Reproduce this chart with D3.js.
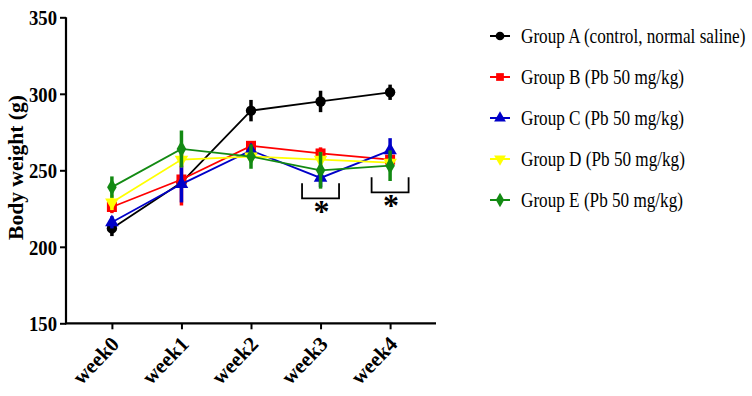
<!DOCTYPE html>
<html><head><meta charset="utf-8">
<script src="https://cdn.jsdelivr.net/npm/d3@7"></script>
<style>body{margin:0;background:#fff}svg{display:block}</style>
</head><body>
<svg id="c" width="752" height="396"></svg>
<script>
const weeks = ["week0","week1","week2","week3","week4"];
const groupNames = ["Group A (control, normal saline)","Group B (Pb 50 mg/kg)","Group C (Pb 50 mg/kg)","Group D (Pb 50 mg/kg)","Group E (Pb 50 mg/kg)"];
const groupColors = ["#000000","#ff0000","#0000c8","#ffff00","#138a13"];
const groupSymbols = ["circle","square","triangle","triangleDown","diamond"];
const groupA = [212, 242, 289, 295, 301];
const groupB = [226, 244, 266, 261, 257];
const groupC = [216, 241, 263, 245, 263];
const groupD = [229, 257, 259, 257, 255];
const groupE = [239, 264, 259, 250, 253];
const errA = [5, 3, 7, 7, 5];
const errB = [4, 17, 3, 4, 3];
const errC = [4, 12, 3, 6, 8];
const errD = [5, 5, 3, 5, 3];
const errE = [7, 12, 8, 12, 10];
const yTicks = [150, 200, 250, 300, 350];
const sigWeeks = ["week3","week4"];
const sigTop = [241.5, 245.4];
const sigBottom = [231.7, 235.6];

const values = [groupA, groupB, groupC, groupD, groupE];
const errs = [errA, errB, errC, errD, errE];

const svg = d3.select("#c");
const x = d3.scalePoint().domain(weeks).range([66, 436]).padding(0.66);
const y = d3.scaleLinear().domain([150, 350]).range([323.3, 17.3]);

// axes
const yAxis = svg.append("g").attr("transform","translate(66,0)")
  .call(d3.axisLeft(y).tickValues(yTicks).tickSize(6).tickPadding(3).tickFormat(d3.format("d")));
yAxis.select(".domain").attr("stroke","#000").attr("stroke-width",2.2).attr("d","M0,"+y(350)+"V"+(y(150)+1));
yAxis.selectAll(".tick line").attr("stroke","#000").attr("stroke-width",2);
yAxis.selectAll(".tick text").attr("font-family","Liberation Serif").attr("font-weight","bold")
  .attr("font-size",22).attr("fill","#000").attr("dy","0.34em").attr("textLength",28).attr("lengthAdjust","spacingAndGlyphs");

const xAxis = svg.append("g").attr("transform","translate(0,"+y(150)+")")
  .call(d3.axisBottom(x).tickSize(6).tickPadding(4));
xAxis.select(".domain").attr("stroke","#000").attr("stroke-width",2.2).attr("d","M65,0H436");
xAxis.selectAll(".tick line").attr("stroke","#000").attr("stroke-width",2);
xAxis.selectAll(".tick text").attr("font-family","Liberation Serif").attr("font-weight","bold")
  .attr("font-size",21).attr("fill","#000")
  .attr("text-anchor","end").attr("dy",0).attr("y",0)
  .attr("transform","translate(8,22) rotate(-46)");

// y title
svg.append("text").attr("transform","translate(23,"+((95+240)/2)+") rotate(-90)")
  .attr("text-anchor","middle").attr("font-family","Liberation Serif").attr("font-weight","bold")
  .attr("font-size",20).attr("textLength",145).attr("lengthAdjust","spacingAndGlyphs")
  .text("Body weight (g)");

function sym(i, size){
  const s = groupSymbols[i];
  if (s === "circle") return d3.symbol(d3.symbolCircle, size)();
  if (s === "square") return d3.symbol(d3.symbolSquare, size)();
  if (s === "triangle") return d3.symbol(d3.symbolTriangle, size)();
  if (s === "diamond") return d3.symbol(d3.symbolDiamond, size)();
  if (s === "triangleDown") return d3.symbol(d3.symbolTriangle, size)();
}
const line = d3.line().x((d,i)=>x(weeks[i])).y(d=>y(d));

values.forEach((vals, gi) => {
  const g = svg.append("g");
  const col = groupColors[gi];
  g.append("path").attr("d", line(vals)).attr("fill","none").attr("stroke",col).attr("stroke-width",1.8);
  vals.forEach((v, i) => {
    const e = errs[gi][i];
    g.append("line").attr("x1",x(weeks[i])).attr("x2",x(weeks[i]))
      .attr("y1",y(v+e)).attr("y2",y(v-e)).attr("stroke",col).attr("stroke-width",3.5);
    const rot = groupSymbols[gi]==="triangleDown" ? " rotate(180)" : "";
    g.append("path").attr("d", sym(gi, groupSymbols[gi]==="circle"?85:(groupSymbols[gi]==="square"?100:80)))
      .attr("transform","translate("+x(weeks[i])+","+y(v)+")"+rot).attr("fill",col);
  });
});

// significance brackets
sigWeeks.forEach((w, i) => {
  const cx = x(w), t = y(sigTop[i]), b = y(sigBottom[i]);
  svg.append("path").attr("d","M"+(cx-18.5)+","+t+"V"+b+"H"+(cx+18.5)+"V"+t)
    .attr("fill","none").attr("stroke","#000").attr("stroke-width",1.8);
  svg.append("text").attr("x",cx+1).attr("y",b+24).attr("text-anchor","middle")
    .attr("font-family","Liberation Serif").attr("font-weight","bold").attr("font-size",32).text("*");
});

// legend
const legY0 = 36, legStep = 41;
groupNames.forEach((nm, gi) => {
  const ly = legY0 + gi*legStep;
  const col = groupColors[gi];
  svg.append("line").attr("x1",490).attr("x2",510).attr("y1",ly).attr("y2",ly).attr("stroke",col).attr("stroke-width",2);
  const rot = groupSymbols[gi]==="triangleDown" ? " rotate(180)" : "";
  svg.append("path").attr("d", sym(gi, 60)).attr("transform","translate(500,"+ly+")"+rot).attr("fill",col);
  svg.append("text").attr("transform","translate(521,"+(ly+7)+") scale(0.78,1)")
    .attr("font-family","Liberation Serif").attr("font-size",22).attr("fill","#000").text(nm);
});
</script>
</body></html>
